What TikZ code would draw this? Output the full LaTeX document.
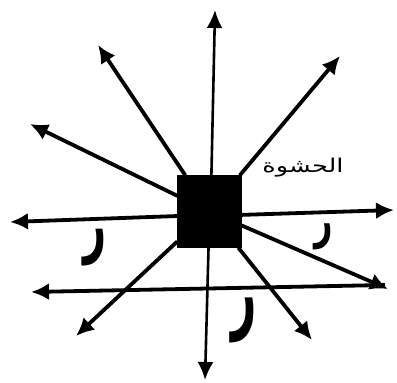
\documentclass[tikz,border=0pt]{standalone}
\usepackage{fontspec}
\newfontfamily\arabicfont[Script=Arabic]{DejaVu Sans}
\TeXXeTstate=1
\usetikzlibrary{arrows.meta}
\begin{document}
\begin{tikzpicture}[x=1pt,y=-1pt,
  ray/.style={line width=3.8pt,-{Latex[length=18pt,width=17pt]}},
  thinray/.style={line width=2.6pt,-{Latex[length=18pt,width=16pt]}},
  lbl/.style={inner sep=0pt}]
\useasboundingbox (0,0) rectangle (397,383);
\node[fill=black, draw=black, minimum width=64pt, minimum height=72pt, inner sep=0pt] (sq) at (209.5,211.5) {};
% tips
\coordinate (tU) at (215,10);
\coordinate (tUL) at (98,45);
\coordinate (tUR) at (340,56);
\coordinate (tLU) at (30,124);
\coordinate (tL) at (10,222);
\coordinate (tR) at (394,210);
\coordinate (tRL) at (388,289);
\coordinate (tDR) at (312,340);
\coordinate (tD) at (205,380);
\coordinate (tDL) at (76,336);
\coordinate (hR) at (385,285);
\coordinate (tHL) at (31,292);
% rays
\draw[thinray] (sq.87) -- (tU);
\draw[ray] (sq) -- (tUL);
\draw[ray] (sq) -- (tUR);
\draw[ray] (sq) -- (tLU);
\draw[ray] (sq.188) -- (tL);
\draw[ray] (sq.-6) -- (tR);
\draw[ray] (sq) -- (tRL);
\draw[ray] (sq) -- (tDR);
\draw[thinray] (sq) -- (tD);
\draw[ray] (sq) -- (tDL);
\draw[ray] (hR) -- (tHL);
% labels
\node[lbl, font=\arabicfont\fontsize{19}{22}\selectfont] (txt) at (303,168) {\scalebox{1.35}[1]{\beginR الحشوة\endR}};
\node[lbl, font=\arabicfont\bfseries\fontsize{40}{46}\selectfont] (r1) at (95,248) {\scalebox{1}[1.8]{\beginR ر\endR}};
\node[lbl, font=\arabicfont\bfseries\fontsize{32}{38}\selectfont] (r2) at (324,237) {\scalebox{1}[1.6]{\beginR ر\endR}};
\node[lbl, font=\arabicfont\bfseries\fontsize{44}{50}\selectfont] (r3) at (244,320) {\scalebox{1}[2]{\beginR ر\endR}};
\end{tikzpicture}
\end{document}
